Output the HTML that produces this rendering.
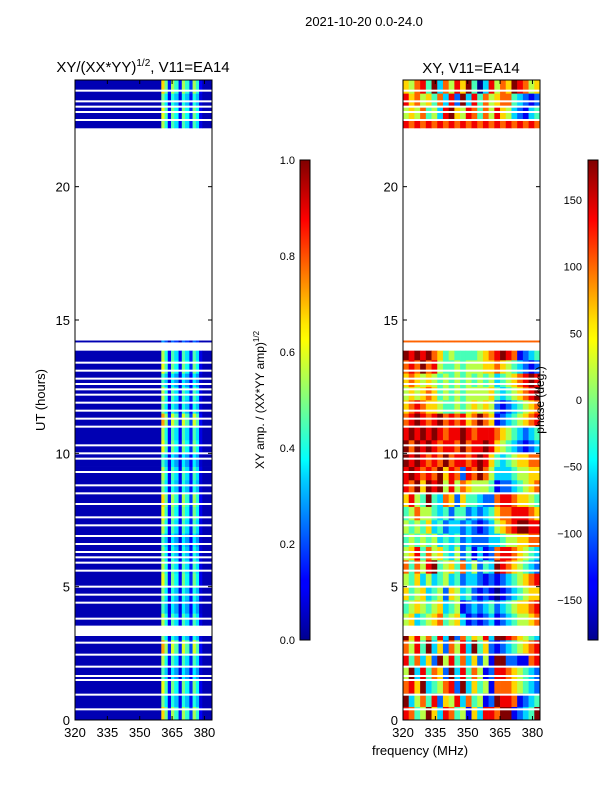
<!DOCTYPE html>
<html><head><meta charset="utf-8"><style>
html,body{margin:0;padding:0;background:#fff;}
svg{display:block;font-family:"Liberation Sans","DejaVu Sans",sans-serif;}
</style></head><body>
<svg id="fig" width="600" height="800" viewBox="0 0 600 800" xmlns="http://www.w3.org/2000/svg">
<defs>
<linearGradient id="jet" x1="0" y1="1" x2="0" y2="0">
<stop offset="0" stop-color="#00008f"/><stop offset="0.11" stop-color="#0000ff"/><stop offset="0.125" stop-color="#0000ff"/>
<stop offset="0.34" stop-color="#00d4ff"/><stop offset="0.375" stop-color="#00ffff"/><stop offset="0.5" stop-color="#80ff80"/>
<stop offset="0.625" stop-color="#ffff00"/><stop offset="0.66" stop-color="#ffe600"/><stop offset="0.875" stop-color="#ff0000"/><stop offset="1" stop-color="#800000"/>
</linearGradient>
</defs>
<text x="364" y="26" font-size="13" text-anchor="middle">2021-10-20 0.0-24.0</text>
<text x="143" y="72" font-size="15" text-anchor="middle">XY/(XX*YY)<tspan font-size="10" dy="-6">1/2</tspan><tspan dy="6">, V11=EA14</tspan></text>
<text x="471" y="73" font-size="15" text-anchor="middle">XY, V11=EA14</text>
<g id="left"></g>
<g id="right"></g>
<g id="axes"></g>
<text transform="translate(45,400) rotate(-90)" font-size="13" text-anchor="middle">UT (hours)</text>
<text x="420" y="755" font-size="13" text-anchor="middle">frequency (MHz)</text>
<text transform="translate(264,400) rotate(-90)" font-size="12" text-anchor="middle">XY amp. / (XX*YY amp)<tspan font-size="8" dy="-5">1/2</tspan></text>
<rect x="300" y="160" width="10" height="480" fill="url(#jet)" stroke="#000" stroke-width="1"/>
<rect x="588" y="160" width="10" height="480" fill="url(#jet)" stroke="#000" stroke-width="1"/>
<text transform="translate(544,400) rotate(-90)" font-size="12" text-anchor="middle">phase (deg.)</text>
</svg>
<script>
const NS="http://www.w3.org/2000/svg";
// ---- data ----
const presentIntervals=[[0,3.15],[3.55,13.85],[14.17,14.23],[22.2,24]];
const gapHours=[0.4,0.95,1.5,1.65,2.0,2.45,2.9,3.8,4.4,4.7,5.0,5.6,5.9,6.1,6.3,6.6,6.9,7.3,7.6,8.1,8.5,8.8,9.3,9.8,10.0,10.3,11.0,11.3,11.6,11.9,12.2,12.4,12.6,12.8,13.1,13.4,22.5,22.8,23.0,23.2,23.6];
const ampFreqEdges=[320,360,361.5,363,364.5,366,368,369.5,371,373,374.5,376,377.5,379,383.5];
const ampValues=[0.05,0.55,0.4,0.12,0.45,0.35,0.12,0.45,0.35,0.15,0.45,0.35,0.1,0.05];
const ampRowFactor=[1.2,0.9,1.1,0.8,1.0,1.3,0.9,1.0,0.8,0.9,1.1,1.0,0.9,0.8,1.0,1.1,1.2,0.9,1.0,0.8,1.1,1.0,1.3,0.9,1.0,0.8,1.1,1.0,0.5,1,1,1,1,1,1,1,1,1,1,1,1,1,1,1,1.0,1.1,0.9,1.2];
const phaseRows=["874596387451638879912349","935748265837451298871234","786934578293645177765432","593847629384751288765432","847362958473625199221178","758493627583946212345678","968574839274658399876543","563456745631212312345567","456545634512323423456678","645634526534212101234566","546353453423321212345678","747589456473524398765432","568475643524131278876543","454545343423222334556677","545463423323212356789988","457554342442323467788876","685494376264432278876654","879698958576555412234567","898787968728797533345566","989878797887898643456677","979898788797889865432123","898989878898788876543234","789878978786797612345678","678766544545656521234567","565676454545555643456789","676565454545454534567898","787978544545556676543212","989897645444456789871234","777777777777777777777777","","","","","","","","","","","","","","","","878787878787878787878787","565745389658747586532134","867564738293847567743212","657849375869403857698756"];
const yTicks=[0,5,10,15,20];
const xTicks=[320,335,350,365,380];
const ampTicks=["0.0","0.2","0.4","0.6","0.8","1.0"];
const phaseTicks=[-150,-100,-50,0,50,100,150];
// ---- scales ----
const FMIN=320,FMAX=383.5;
function xs(f,x0){return x0+(f-FMIN)*137/(FMAX-FMIN);}
function ys(h){return 720-h*640/24;}
function jet(v){v=Math.max(0,Math.min(1,v));
 const r=Math.min(4*v-1.5,-4*v+4.5),g=Math.min(4*v-0.5,-4*v+3.5),b=Math.min(4*v+0.5,-4*v+2.5);
 const c=t=>Math.round(255*Math.max(0,Math.min(1,t)));return `rgb(${c(r)},${c(g)},${c(b)})`;}
// rows: half-hour bins clipped to present intervals
const rows=[];
for(let i=0;i<48;i++){const h0=i*0.5,h1=h0+0.5;
 presentIntervals.forEach(p=>{const a=Math.max(h0,p[0]),b=Math.min(h1,p[1]);if(b>a)rows.push([a,b,i]);});}
const L=document.getElementById('left'),R=document.getElementById('right');
rows.forEach(rw=>{
 const bin=rw[2];
 const y1=ys(rw[1]),hh=ys(rw[0])-y1+0.3;
 for(let k=0;k<ampValues.length;k++){
  const r=document.createElementNS(NS,'rect');
  
  
  const xa=xs(ampFreqEdges[k],75),xb=xs(ampFreqEdges[k+1],75);
  r.setAttribute('x',xa);r.setAttribute('y',y1);r.setAttribute('width',xb-xa+0.3);r.setAttribute('height',hh);
  const v=k===0||k===ampValues.length-1?ampValues[k]:ampValues[k]*ampRowFactor[bin];
  r.setAttribute('fill',jet(v));L.appendChild(r);}
 const s=phaseRows[bin]||"";
 for(let c=0;c<s.length;c++){
  const r=document.createElementNS(NS,'rect');
  
  
  const f0=FMIN+c*(FMAX-FMIN)/s.length,f1=f0+(FMAX-FMIN)/s.length;
  const xa=xs(f0,403),xb=xs(f1,403);
  r.setAttribute('x',xa);r.setAttribute('y',y1);r.setAttribute('width',xb-xa+0.3);r.setAttribute('height',hh);
  r.setAttribute('fill',jet(+s[c]/9));R.appendChild(r);}
});
// thin white gap lines (missing integrations)
[[L,75],[R,403]].forEach(([g,x0])=>{
 gapHours.forEach(h=>{
  const r=document.createElementNS(NS,'rect');
  
  
  r.setAttribute('x',x0);r.setAttribute('y',ys(h)-1);r.setAttribute('width',137);r.setAttribute('height',2);
  r.setAttribute('fill','#fff');g.appendChild(r);});
});
// axes
const A=document.getElementById('axes');
function el(tag,attrs,txt){const e=document.createElementNS(NS,tag);for(const k in attrs)e.setAttribute(k,attrs[k]);if(txt!==undefined)e.textContent=txt;A.appendChild(e);return e;}
[75,403].forEach((x0,pi)=>{
 const fr=el('rect',{x:x0,y:80,width:137,height:640,fill:'none',stroke:'#000','stroke-width':1});
 
 
 yTicks.forEach(t=>{const y=ys(t);
  el('line',{x1:x0,x2:x0+4,y1:y,y2:y,stroke:'#000'});el('line',{x1:x0+137,x2:x0+133,y1:y,y2:y,stroke:'#000'});
  const tx=el('text',{x:x0-5,y:y+5,'font-size':13,'text-anchor':'end'},t);
  
  });
 xTicks.forEach(t=>{const x=xs(t,x0);
  el('line',{x1:x,x2:x,y1:720,y2:716,stroke:'#000'});el('line',{x1:x,x2:x,y1:80,y2:84,stroke:'#000'});
  const tx=el('text',{x:x,y:737,'font-size':13,'text-anchor':'middle'},t);
  
  });
});
ampTicks.forEach((t,i)=>{const y=640-i*96;
 el('line',{x1:300,x2:303,y1:y,y2:y,stroke:'#000'});el('line',{x1:310,x2:307,y1:y,y2:y,stroke:'#000'});
 const tx=el('text',{x:295,y:y+4,'font-size':11,'text-anchor':'end'},t);
 
 });
phaseTicks.forEach(t=>{const y=640-(t+180)/360*480;
 el('line',{x1:588,x2:591,y1:y,y2:y,stroke:'#000'});el('line',{x1:598,x2:595,y1:y,y2:y,stroke:'#000'});
 const tx=el('text',{x:582,y:y+4,'font-size':11,'text-anchor':'end'},t===0?'0':(t<0?'\u2212'+(-t):t));
 
 });
</script>
</body></html>
